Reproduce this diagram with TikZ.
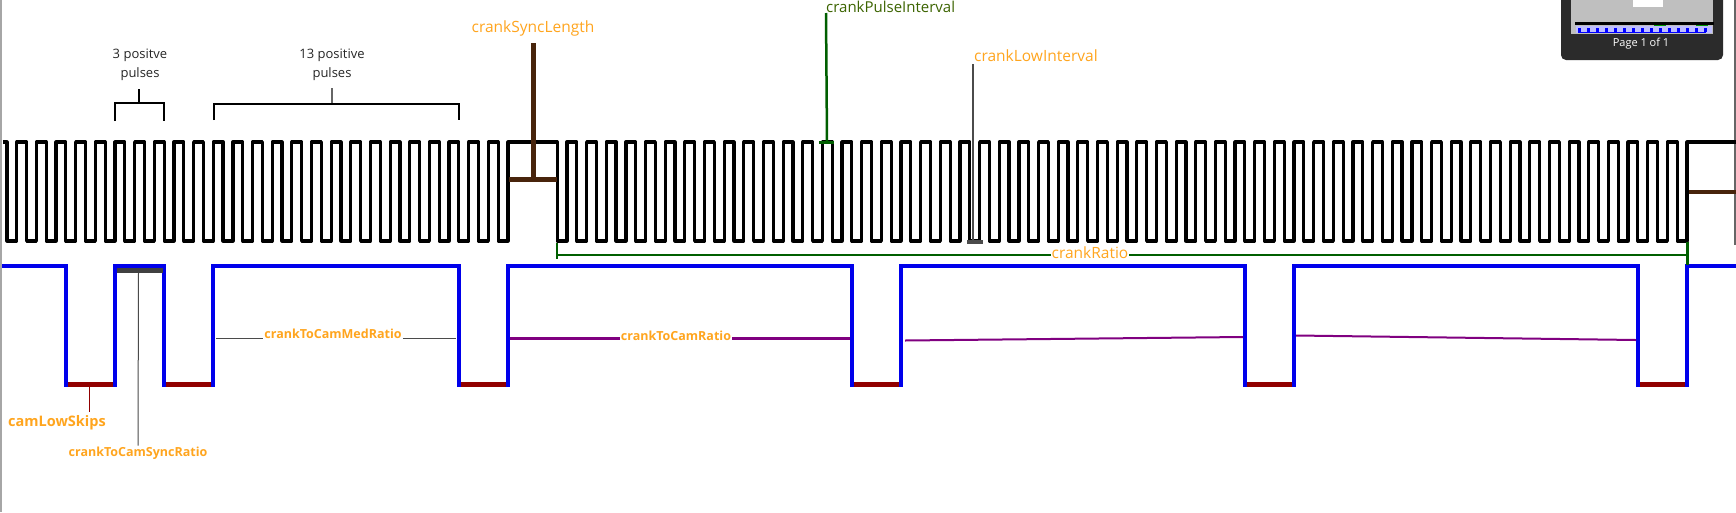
\documentclass[tikz,border=0pt]{standalone}
\usepackage{fontspec}
\setmainfont{Open Sans}
\definecolor{lblc}{RGB}{255,165,30}
\definecolor{camblue}{RGB}{0,0,235}
\definecolor{lowred}{RGB}{145,0,0}
\definecolor{syncbrown}{RGB}{72,36,12}
\definecolor{dgreen}{RGB}{0,95,0}
\definecolor{tgreen}{RGB}{60,100,0}
\definecolor{purp}{RGB}{128,0,128}
\definecolor{ggray}{RGB}{75,75,75}
\definecolor{popdark}{RGB}{43,43,43}
\begin{document}
\begin{tikzpicture}[x=1pt,y=-1pt,
  crank/.style={line width=3.2pt,line join=round,black},
  cam/.style={line width=3.2pt,camblue,line join=miter},
  lowbar/.style={line width=5pt,lowred},
  lbl/.style={text=lblc,inner sep=1pt,font=\fontsize{#1}{#1}\selectfont},
  lblb/.style={text=lblc,inner sep=1pt,font=\fontsize{#1}{#1}\selectfont\bfseries},
  brk/.style={line width=1.2pt,black},
  brktext/.style={align=center,text=black!85,font=\fontsize{13}{19}\selectfont,inner sep=0pt},
  lead/.style={line width=1pt,ggray}]
\useasboundingbox (0,0) rectangle (1736,512);
\fill[white] (0,0) rectangle (1736,512);
% window borders
\draw[line width=2pt,black!35] (1,0) -- (1,512);
\draw[line width=1.5pt,black!60] (1735,0) -- (1735,245);
% crank wave
\draw[crank] (3,142) -- (7,142) -- (7,241)
  \foreach \k in {-25,...,-1} { -- ({508+\k*19.65},241) -- ({508+\k*19.65},142) -- ({508+(\k+0.5)*19.65},142) -- ({508+(\k+0.5)*19.65},241) }
  -- (508,241) -- (508,142) -- ({508+2.5*19.65},142) -- ({508+2.5*19.65},241)
  \foreach \k in {3,...,59} { -- ({508+\k*19.65},241) -- ({508+\k*19.65},142) -- ({508+(\k+0.5)*19.65},142) -- ({508+(\k+0.5)*19.65},241) }
  -- (1687,241) -- (1687,142) -- (1736,142);
% cam wave
\draw[cam] (2,266) -- (66,266) -- (66,385) -- (115,385) -- (115,266) -- (164,266) -- (164,385) -- (213,385) -- (213,266)
  -- (459,266) -- (459,385) -- (508,385) -- (508,266) -- (852,266) -- (852,385) -- (901,385) -- (901,266)
  -- (1245,266) -- (1245,385) -- (1294,385) -- (1294,266) -- (1638,266) -- (1638,385) -- (1687,385) -- (1687,266) -- (1736,266);
% cam low bars
\foreach \a/\b in {66/115,164/213,459/508,852/901,1245/1294,1638/1687}
  \draw[lowbar] (\a+2,384) -- (\b-2,384);
% brackets
\node[brktext] (b3) at (140,65) {3 positve\\pulses};
\coordinate (b3s) at (139,89);
\coordinate (b3l) at (115,121);
\coordinate (b3r) at (164,121);
\draw[brk] (b3s) -- (139,103);
\draw[brk] (b3l) -- (115,103) -- (164,103) -- (b3r);
\node[brktext] (b13) at (332,65) {13 positive\\pulses};
\coordinate (b13s) at (332,88);
\coordinate (b13l) at (214,120);
\coordinate (b13r) at (459,120);
\draw[brk,black!60] (b13s) -- (332,104);
\draw[brk] (b13l) -- (214,104) -- (459,104) -- (b13r);
% crankSyncLength
\node[lbl=15.5] (csl) at (533,28) {crankSyncLength};
\coordinate (cslT) at (533,43);
\coordinate (cslB) at (533,179);
\draw[line width=5pt,syncbrown] (cslT) -- (cslB);
\draw[line width=5pt,syncbrown] (509,179) -- (557,179);
\draw[line width=4pt,syncbrown] (1689,192) -- (1736,192);
% crankPulseInterval
\node[anchor=west,text=tgreen,inner sep=0pt,font=\fontsize{15}{15}\selectfont] (cpi) at (826,7) {crankPulseInterval};
\coordinate (cpiB) at (827,142);
\draw[line width=2.5pt,dgreen] (cpi.west |- 0,13) -- (cpiB);
\draw[line width=3pt,dgreen] (819,142) -- (834,142);
% crankLowInterval
\node[lbl=15.5,anchor=west,inner sep=0pt] (cli) at (974,56) {crankLowInterval};
\coordinate (cliT) at (973,64);
\coordinate (cliB) at (973,242);
\draw[line width=2.5pt,ggray] (cliT) -- (cliB);
\draw[line width=4pt,ggray] (967,242) -- (983,242);
% crankRatio
\coordinate (crL) at (557,255);
\coordinate (crR) at (1687.5,255);
\draw[line width=2.5pt,dgreen] (557,243) -- (557,259);
\draw[line width=2.5pt,dgreen] (1687.5,242) -- (1687.5,265);
\draw[line width=2.5pt,dgreen] (crL) -- (crR);
\node[lbl=15.5,fill=white,inner ysep=0pt] (cr) at (1090,253) {crankRatio};
% crankToCamSyncRatio
\draw[line width=5pt,black!75] (117,270) -- (163,270);
\node[lblb=12.5] (ctcs) at (138,453) {crankToCamSyncRatio};
\coordinate (ctcsT) at (138.5,273);
\draw[lead] (ctcsT) -- (ctcs.north);
% camLowSkips
\node[lblb=14.5] (cls) at (57,423) {camLowSkips};
\coordinate (clsT) at (89,387);
\draw[line width=1pt,lowred] (clsT) -- (89,412);
% crankToCamMedRatio
\coordinate (cmL) at (216,338);
\coordinate (cmR) at (456,338);
\node[lblb=12.5] (cm) at (333,334) {crankToCamMedRatio};
\draw[lead] (cmL) -- (cm.west |- cmL);
\draw[lead] (cm.east |- cmR) -- (cmR);
% crankToCamRatio
\coordinate (ctL) at (510,338);
\coordinate (ctR) at (850,338);
\node[lblb=12.5] (ct) at (676,336) {crankToCamRatio};
\draw[line width=3pt,purp] (ctL) -- (ct.west |- ctL);
\draw[line width=3pt,purp] (ct.east |- ctR) -- (ctR);
\coordinate (p2L) at (905,340.5);
\coordinate (p2R) at (1243,337);
\coordinate (p3L) at (1296,335.5);
\coordinate (p3R) at (1636,340);
\draw[line width=2pt,purp] (p2L) -- (p2R);
\draw[line width=2pt,purp] (p3L) -- (p3R);
% viewer popup
\fill[popdark,rounded corners=5pt] (1561,-10) rectangle (1723,60);
\fill[black!25] (1571,-5) rectangle (1713,34);
\fill[white] (1633,-1) rectangle (1663,7);
\draw[line width=3pt,black] (1575,23) -- (1714,23);
\fill[blue!25] (1576,26) rectangle (1712,33);
\draw[line width=1pt,blue] (1578,32) -- (1706,32);
\draw[line width=4pt,blue,dash pattern=on 3pt off 6pt] (1578,30) -- (1708,30);
\draw[line width=1pt,green!60!black] (1654,26) -- (1654,25) -- (1665,25) -- (1665,26);
\draw[line width=1pt,green!60!black] (1696,26) -- (1696,25) -- (1707,25) -- (1707,26);
\node[text=white,inner sep=0pt,font=\fontsize{11}{11}\selectfont] (pg) at (1641,44) {Page 1 of 1};
\end{tikzpicture}
\end{document}
